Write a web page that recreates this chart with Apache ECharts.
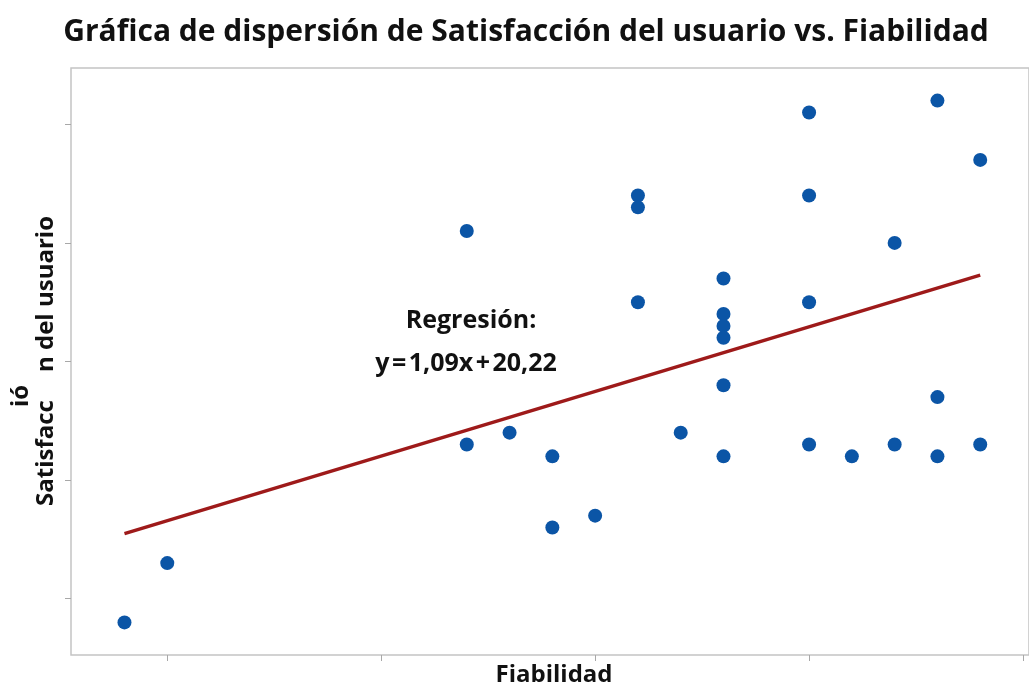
<!DOCTYPE html>
<html>
<head>
<meta charset="utf-8">
<script src="https://cdn.jsdelivr.net/npm/echarts@6/dist/echarts.min.js"></script>
<style>html,body{margin:0;padding:0;background:#fff;}#c{width:1029px;height:688px;}</style>
</head>
<body>
<div id="c"></div>
<script>
// Data
var fiabilidad = [14,15,22,22,23,24,24,25,26,26,26,27,28,28,28,28,28,28,30,30,30,30,31,32,32,33,33,33,34,34];
var satisfaccion = [28,33,61,43,44,42,36,37,64,63,55,44,57,54,53,52,48,42,71,64,55,43,42,60,43,72,47,42,67,43];
var xTicks = [15,20,25,30,35];
var yTicks = [30,40,50,60,70];
var slope = 1.09, intercept = 20.22;
var fitX = [14, 34];

var points = fiabilidad.map(function(x,i){ return [x, satisfaccion[i]]; });
var fitLine = fitX.map(function(x){ return [x, slope*x + intercept]; });

var FONT = '"Open Sans", "Noto Sans", sans-serif';
var chart = echarts.init(document.getElementById('c'));
chart.setOption({
  animation: false,
  backgroundColor: '#fff',
  grid: { left: 71, top: 68, right: 0, height: 587, show: true, borderColor: '#c4c4c4', borderWidth: 1.5, backgroundColor: 'transparent' },
  xAxis: {
    type: 'value', min: 12.75, max: 35.14,
    axisLine: { show: false },
    axisTick: { show: true, customValues: xTicks, length: 6, lineStyle: { color: '#a8a8a8' } },
    axisLabel: { show: false },
    splitLine: { show: false }
  },
  yAxis: {
    type: 'value', min: 25.25, max: 74.75,
    axisLine: { show: false },
    axisTick: { show: true, customValues: yTicks, length: 6, lineStyle: { color: '#a8a8a8' } },
    axisLabel: { show: false },
    splitLine: { show: false }
  },
  series: [
    { type: 'line', data: fitLine, symbol: 'none', lineStyle: { color: '#9e1a1a', width: 3.5 }, z: 2 },
    { type: 'scatter', data: points, symbol: 'circle', symbolSize: 14, itemStyle: { color: '#0b55a6', opacity: 1 }, z: 3 }
  ],
  graphic: [
    { type: 'text', x: 526, y: 32, style: { text: 'Gráfica de dispersión de Satisfacción del usuario vs. Fiabilidad', font: 'bold 30px ' + FONT, fill: '#111', textAlign: 'center', textVerticalAlign: 'middle' } },
    { type: 'text', x: 554, y: 675, style: { text: 'Fiabilidad', font: 'bold 24px ' + FONT, fill: '#111', textAlign: 'center', textVerticalAlign: 'middle' } },
    { type: 'text', x: 46, y: 506, rotation: Math.PI/2, style: { text: 'Satisfacc', font: 'bold 24px ' + FONT, fill: '#111', textAlign: 'left', textVerticalAlign: 'middle' } },
    { type: 'text', x: 46, y: 372, rotation: Math.PI/2, style: { text: 'n del usuario', font: 'bold 24px ' + FONT, fill: '#111', textAlign: 'left', textVerticalAlign: 'middle' } },
    { type: 'text', x: 21, y: 407, rotation: Math.PI/2, style: { text: 'ió', font: 'bold 24px ' + FONT, fill: '#111', textAlign: 'left', textVerticalAlign: 'middle' } },
    { type: 'text', x: 471, y: 321, style: { text: 'Regresión:', font: 'bold 25px ' + FONT, fill: '#111', textAlign: 'center', textVerticalAlign: 'middle' } },
    { type: 'text', x: 466, y: 364, style: { text: 'y\u200A=\u200A1,09x\u200A+\u200A20,22', font: 'bold 25px ' + FONT, fill: '#111', textAlign: 'center', textVerticalAlign: 'middle' } }
  ]
});
</script>
</body>
</html>
